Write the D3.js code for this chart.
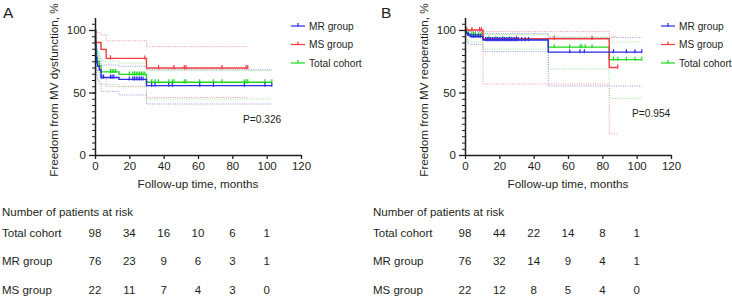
<!DOCTYPE html>
<html><head><meta charset="utf-8">
<script src="https://cdn.jsdelivr.net/npm/d3@7"></script>
<style>
html,body{margin:0;padding:0;background:#fff;}
svg{display:block;font-family:"Liberation Sans",Arial,Helvetica,sans-serif;}
</style></head>
<body><svg id="c" width="732" height="297"></svg>
<script>
// ---------- DATA ----------
const xTicks = [0,20,40,60,80,100,120];
const yMajor = [0,50,100];
const riskTimes = [0,20,40,60,80,100];
const groups = ["MR group","MS group","Total cohort"];
const riskRows = ["Total cohort","MR group","MS group"];

// Panel A: freedom from MV dysfunction
const aMRsteps  = [[0,100],[0.3,88],[0.6,78],[1,74],[1.5,71],[2.5,68],[3.5,62],[14,60.5],[30,55.5]];
const aMRend = 103;
const aMRcens = [4,5,9,10,11,20,22,23,24,25,26,27,28,33,35,43,45,61,69,87,99,103];
const aMSsteps  = [[0,100],[0.4,90],[3.5,84.5],[6.5,77.3],[30,69.6]];
const aMSend = 89;
const aMScens = [9,29,37,46,52,53,74,88,89];
const aTOTsteps = [[0,100],[0.3,91],[0.6,83],[1,78],[1.5,75],[2.5,71.5],[3.5,66.5],[14,64.5],[30,58.2]];
const aTOTend = 103;
const aTOTcens = [9,10,11,12,20,22,23,24,25,26,27,28,29,33,35,37,43,45,46,52,53,61,69,74,87,88,89,99,103];
const aMRlo  = [[0,100],[0.3,80],[0.6,68],[1,63],[1.5,60],[2.5,57],[3.5,51],[14,48],[30,40.8]];
const aMRhi  = [[0,100],[0.3,94],[0.6,86],[1,83],[1.5,80],[2.5,77.5],[3.5,72],[14,71],[30,68.3]];
const aMSlo  = [[0,100],[0.4,68],[3.5,62],[6.5,55],[30,46]];
const aMShi  = [[0,100],[0.4,98],[3.5,96],[6.5,91.4],[30,86.7]];
const aTOTlo = [[0,100],[0.3,84],[0.6,75],[1,69],[1.5,66],[2.5,62],[3.5,56.5],[14,54.5],[30,44.8]];
const aTOThi = [[0,100],[0.3,95],[0.6,89],[1,85],[1.5,82],[2.5,79],[3.5,75],[14,73.5],[30,67.5]];
const aRiskTotal = [98,34,16,10,6,1];
const aRiskMR    = [76,23,9,6,3,1];
const aRiskMS    = [22,11,7,4,3,0];
const aP = "P=0.326";

// Panel B: freedom from MV reoperation
const bMRsteps  = [[0,100],[0.5,97.5],[1.5,96],[3,94.7],[10.5,92],[48.5,82.3]];
const bMRend = 103;
const bMRcens = [2,4,5,6,7,8,9,12,13,14,15,16,17,18,19,20,21,22,23,24,25,26,27,28,29,30,31,33,35,37,61,67,69.5,86.5,94,99,103];
const bMSsteps  = [[0,100],[10.5,93],[84,70]];
const bMSend = 89;
const bMScens = [1,4,8.5,9.5,30,52,74,89];
const bTOTsteps = [[0,100],[0.5,98],[1.5,97],[3,96],[10.5,92.8],[48.5,86.3],[84,76.3]];
const bTOTend = 103;
const bTOTcens = [1,2,4,5,6,8,9.5,14,18,22,26,30,52,61,67,68,70,74,86.5,89,94,99,103];
const bMRlo  = [[0,100],[0.5,91],[1.5,89.5],[3,88.5],[10.5,82.7],[48.5,55.2]];
const bMRhi  = [[0,100],[0.5,99.7],[1.5,99.3],[3,98.8],[10.5,97.3],[48.5,93.9]];
const bMSlo  = [[0,100],[10.5,56.8],[84,16.8]];
const bMShi  = [[0,100],[10.5,98.8],[84,95]];
const bTOTlo = [[0,100],[0.5,93],[1.5,91.5],[3,90.5],[10.5,84.8],[48.5,68.8],[84,45.3]];
const bTOThi = [[0,100],[0.5,99.6],[1.5,99.2],[3,98.8],[10.5,96.3],[48.5,94.5],[84,90.4]];
const bRiskTotal = [98,44,22,14,8,1];
const bRiskMR    = [76,32,14,9,4,1];
const bRiskMS    = [22,12,8,5,4,0];
const bP = "P=0.954";

// ---------- STYLE ----------
const COL = {mr:"#2a2ae8", ms:"#f03c3c", tot:"#1ed81e"};
const CI  = {mr:"#9696d6", ms:"#f29ca4", tot:"#98e698"};
const TXT = "#231f20";

const svg = d3.select("#c");
const y = d3.scaleLinear().domain([0,100]).range([155,30]);
const yAx = d3.scaleLinear().domain([0,110]).range([y(0), y(110)]);

function survAt(steps, t){ let s = steps[0][1]; for(const p of steps){ if(p[0] <= t) s = p[1]; } return s; }
function pts(steps, end){ return steps.concat([[end, steps[steps.length-1][1]]]); }

function panel(cfg){
  const x = d3.scaleLinear().domain([0,120]).range(cfg.xr);
  const g = svg.append("g");
  const line = d3.line().x(d=>x(d[0])).y(d=>y(d[1])).curve(d3.curveStepAfter);

  // CI dotted lines
  cfg.ci.forEach(c=>{
    g.append("path").attr("d", line(pts(c.steps, c.end))).attr("fill","none")
     .attr("stroke", c.col).attr("stroke-width",1).attr("stroke-dasharray","1,1.3");
  });
  // main curves
  cfg.series.forEach(s=>{
    g.append("path").attr("d", line(pts(s.steps, s.end))).attr("fill","none")
     .attr("stroke", s.col).attr("stroke-width",1.4);
    g.selectAll(null).data(s.cens).enter().append("line")
     .attr("x1", d=>x(d)).attr("x2", d=>x(d))
     .attr("y1", d=>y(survAt(s.steps,d))-3).attr("y2", d=>y(survAt(s.steps,d))+1.2)
     .attr("stroke", s.col).attr("stroke-width",1.2);
  });

  // axes
  const xa = g.append("g").attr("transform",`translate(0,${y(0)})`)
    .call(d3.axisBottom(x).tickValues(xTicks).tickSize(4).tickSizeOuter(0).tickFormat(d3.format("d")));
  xa.select(".domain").attr("stroke",TXT).attr("stroke-width",1.5);
  xa.selectAll(".tick line").attr("stroke",TXT).attr("stroke-width",1.3);
  xa.selectAll(".tick text").attr("fill",TXT).attr("font-size",11.5).attr("font-family","Liberation Sans, Arial").attr("dy","0.9em").attr("y",5);

  const yMin = g.append("g").attr("transform",`translate(${x(0)},0)`)
    .call(d3.axisLeft(yAx).tickValues(d3.range(0,110,5)).tickSize(3).tickSizeOuter(0).tickFormat(""));
  yMin.select(".domain").attr("stroke",TXT).attr("stroke-width",1.5);
  yMin.selectAll(".tick line").attr("stroke",TXT).attr("stroke-width",1);
  const yMaj = g.append("g").attr("transform",`translate(${x(0)},0)`)
    .call(d3.axisLeft(yAx).tickValues(yMajor).tickSize(6).tickSizeOuter(0).tickPadding(3));
  yMaj.select(".domain").remove();
  yMaj.selectAll(".tick line").attr("stroke",TXT).attr("stroke-width",1.3);
  yMaj.selectAll(".tick text").attr("fill",TXT).attr("font-size",11.5).attr("font-family","Liberation Sans, Arial");

  // titles
  g.append("text").attr("x", (x(0)+x(120))/2).attr("y",188).attr("text-anchor","middle")
   .attr("font-size",11.7).attr("fill",TXT).text("Follow-up time, months");
  g.append("text").attr("transform",`translate(${cfg.ytx},90) rotate(-90)`).attr("text-anchor","middle")
   .attr("font-size",11.7).attr("fill",TXT).text(cfg.ytitle);
  g.append("text").attr("x",cfg.lx).attr("y",18).attr("font-size",15.5).attr("fill",TXT).text(cfg.label);

  // legend
  const legY = [26,44.5,63];
  const legSeries = [cfg.series[2], cfg.series[1], cfg.series[0]]; // MR, MS, Total
  legSeries.forEach((s,i)=>{
    const yy = legY[i];
    g.append("line").attr("x1",cfg.legx).attr("x2",cfg.legx+14).attr("y1",yy).attr("y2",yy).attr("stroke",s.col).attr("stroke-width",1.2);
    g.append("line").attr("x1",cfg.legx+7).attr("x2",cfg.legx+7).attr("y1",yy-3).attr("y2",yy+0.5).attr("stroke",s.col).attr("stroke-width",1.2);
    g.append("text").attr("x",cfg.legx+18).attr("y",yy).attr("dy","0.35em").attr("font-size",10.2).attr("fill",TXT).text(groups[i]);
  });
  // p value
  g.append("text").attr("x",cfg.px).attr("y",cfg.py).attr("dy","0.35em").attr("font-size",10.2).attr("fill",TXT).text(cfg.p);

  // risk table
  g.append("text").attr("x",cfg.tx).attr("y",212).attr("dy","0.35em").attr("font-size",11.5).attr("fill",TXT).text("Number of patients at risk");
  const rowY = [232.5,261,289.5];
  cfg.risk.forEach((r,i)=>{
    g.append("text").attr("x",cfg.tx).attr("y",rowY[i]).attr("dy","0.35em").attr("font-size",11.5).attr("fill",TXT).text(riskRows[i]);
    g.selectAll(null).data(r).enter().append("text")
     .attr("x",(d,j)=>x(riskTimes[j])).attr("y",rowY[i]).attr("dy","0.35em").attr("text-anchor","middle")
     .attr("font-size",11.5).attr("fill",TXT).text(d=>d);
  });
}

panel({
  xr:[95,301], label:"A", lx:3, ytx:58, ytitle:"Freedom from MV dysfunction, %",
  legx:291, px:243, py:119, p:aP, tx:2,
  ci:[
    {steps:aTOTlo,end:aTOTend,col:CI.tot},{steps:aTOThi,end:aTOTend,col:CI.tot},
    {steps:aMRlo,end:aMRend,col:CI.mr},{steps:aMRhi,end:aMRend,col:CI.mr},
    {steps:aMSlo,end:aMSend,col:CI.ms},{steps:aMShi,end:aMSend,col:CI.ms}
  ],
  series:[
    {steps:aTOTsteps,end:aTOTend,cens:aTOTcens,col:COL.tot},
    {steps:aMSsteps,end:aMSend,cens:aMScens,col:COL.ms},
    {steps:aMRsteps,end:aMRend,cens:aMRcens,col:COL.mr}
  ],
  risk:[aRiskTotal,aRiskMR,aRiskMS]
});
panel({
  xr:[465,671], label:"B", lx:381, ytx:428, ytitle:"Freedom from MV reoperation, %",
  legx:661, px:632, py:113, p:bP, tx:373,
  ci:[
    {steps:bTOTlo,end:bTOTend,col:CI.tot},{steps:bTOThi,end:bTOTend,col:CI.tot},
    {steps:bMRlo,end:bMRend,col:CI.mr},{steps:bMRhi,end:bMRend,col:CI.mr},
    {steps:bMSlo,end:bMSend,col:CI.ms},{steps:bMShi,end:bMSend,col:CI.ms}
  ],
  series:[
    {steps:bTOTsteps,end:bTOTend,cens:bTOTcens,col:COL.tot},
    {steps:bMSsteps,end:bMSend,cens:bMScens,col:COL.ms},
    {steps:bMRsteps,end:bMRend,cens:bMRcens,col:COL.mr}
  ],
  risk:[bRiskTotal,bRiskMR,bRiskMS]
});
</script></body></html>
